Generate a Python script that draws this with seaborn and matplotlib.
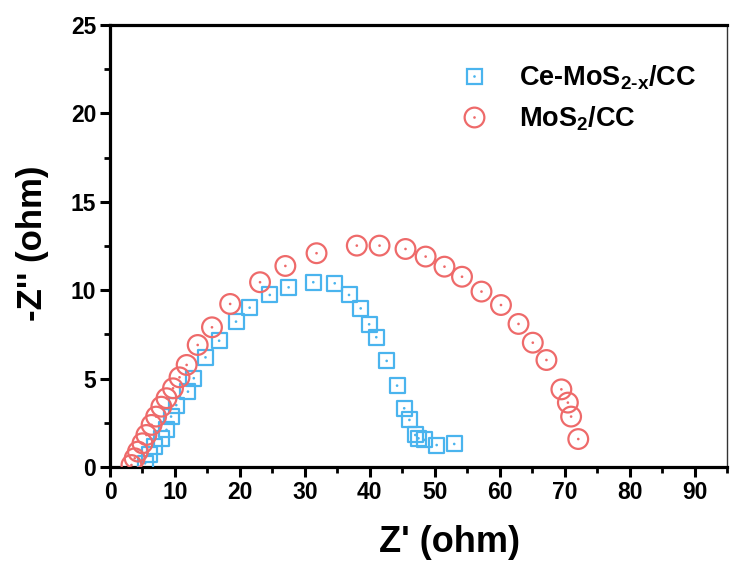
import matplotlib
matplotlib.use("Agg")
import matplotlib.pyplot as plt
import seaborn as sns
import pandas as pd
from matplotlib.lines import Line2D

# Nyquist data (Z' real part, -Z'' imaginary part), in ohm
ce_zre = [5.4, 6.1, 6.9, 7.9, 8.7, 9.4, 10.2, 12.0, 12.9, 14.7, 16.8, 19.4,
          21.5, 24.6, 27.5, 31.3, 34.6, 36.8, 38.6, 39.9, 41.0, 42.6, 44.2,
          45.3, 46.1, 47.0, 47.5, 48.4, 50.3, 53.0]
ce_zim = [0.21, 0.68, 1.15, 1.62, 2.10, 2.85, 3.50, 4.26, 5.02, 6.20, 7.14,
          8.22, 9.01, 9.73, 10.16, 10.45, 10.39, 9.73, 8.97, 8.07, 7.34, 6.00,
          4.60, 3.32, 2.66, 1.81, 1.62, 1.53, 1.24, 1.30]

mo_zre = [3.3, 3.8, 4.3, 5.0, 5.6, 6.4, 7.1, 7.9, 8.7, 9.7, 10.7, 11.8, 13.5,
          15.7, 18.5, 23.1, 27.0, 31.8, 38.0, 41.5, 45.5, 48.6, 51.5, 54.2,
          57.2, 60.2, 62.9, 65.1, 67.2, 69.5, 70.5, 71.0, 72.1]
mo_zim = [0.11, 0.49, 0.87, 1.34, 1.81, 2.38, 2.85, 3.41, 3.89, 4.45, 5.07,
          5.77, 6.90, 7.90, 9.22, 10.45, 11.37, 12.09, 12.52, 12.52, 12.33,
          11.90, 11.33, 10.76, 9.92, 9.16, 8.09, 7.03, 6.05, 4.39, 3.64, 2.85,
          1.58]

labels = ["Ce-MoS$_{2\\text{-}x}$/CC", "MoS$_{2}$/CC"]
x_ticks = [0, 10, 20, 30, 40, 50, 60, 70, 80, 90]
y_ticks = [0, 5, 10, 15, 20, 25]

blue = "#4AB4EE"
red = "#EE6A6A"

sns.set_theme(style="white")
plt.rcParams["font.family"] = ["Liberation Sans", "DejaVu Sans"]
plt.rcParams["font.weight"] = "bold"
plt.rcParams["text.color"] = "black"
plt.rcParams["axes.labelcolor"] = "black"
plt.rcParams["xtick.color"] = "black"
plt.rcParams["ytick.color"] = "black"
plt.rcParams["mathtext.fontset"] = "custom"
plt.rcParams["mathtext.rm"] = "Liberation Sans:bold"
plt.rcParams["mathtext.it"] = "Liberation Sans:bold"
plt.rcParams["mathtext.bf"] = "Liberation Sans:bold"

df_ce = pd.DataFrame({"zre": ce_zre, "zim": ce_zim})
df_mo = pd.DataFrame({"zre": mo_zre, "zim": mo_zim})

fig = plt.figure(figsize=(7.31, 5.65), dpi=100)
ax = fig.add_axes([0.1505, 0.1735, 0.844, 0.7823])

sq_ms, ci_ms, dot_ms = 10.8, 14.2, 1.9
lw = 1.6

# open markers with a small centre dot
sns.scatterplot(data=df_ce, x="zre", y="zim", ax=ax, marker="s", s=sq_ms ** 2,
                facecolor="none", edgecolor=blue, linewidth=lw, zorder=3)
sns.scatterplot(data=df_ce, x="zre", y="zim", ax=ax, marker="o", s=dot_ms ** 2,
                color=blue, edgecolor="none", zorder=3)
sns.scatterplot(data=df_mo, x="zre", y="zim", ax=ax, marker="o", s=ci_ms ** 2,
                facecolor="none", edgecolor=red, linewidth=lw, zorder=4)
sns.scatterplot(data=df_mo, x="zre", y="zim", ax=ax, marker="o", s=dot_ms ** 2,
                color=red, edgecolor="none", zorder=4)

ax.set_xlim(0, 95)
ax.set_ylim(0, 25)
ax.set_xticks(x_ticks)
ax.set_yticks(y_ticks)
ax.set_xticks([v + 5 for v in x_ticks], minor=True)
ax.set_yticks([v + 2.5 for v in y_ticks[:-1]], minor=True)
ax.set_xticklabels([str(v) for v in x_ticks])
ax.set_yticklabels([str(v) for v in y_ticks])

ax.tick_params(axis="both", which="major", direction="out", length=7, width=2.2,
               labelsize=16.5, colors="black", pad=3, bottom=True, left=True)
ax.tick_params(axis="both", which="minor", direction="out", length=4, width=2.0,
               colors="black", bottom=True, left=True)
for lab in ax.get_xticklabels() + ax.get_yticklabels():
    lab.set_fontweight("bold")

for side in ["left", "bottom", "top"]:
    ax.spines[side].set_linewidth(2.3)
    ax.spines[side].set_color("black")
ax.spines["right"].set_linewidth(1.0)
ax.spines["right"].set_color("#333333")

ax.set_xlabel("Z' (ohm)", fontsize=26, fontweight="bold", color="black")
ax.set_ylabel("-Z'' (ohm)", fontsize=25, fontweight="bold", color="black")
ax.xaxis.label.set_va("center")
ax.yaxis.label.set_va("center")
ax.xaxis.set_label_coords(0.551, -0.171)
ax.yaxis.set_label_coords(-0.125, 0.507)

handles = [
    (Line2D([], [], ls="none", marker="s", ms=sq_ms, mfc="none", mec=blue, mew=lw),
     Line2D([], [], ls="none", marker="o", ms=dot_ms, mfc=blue, mec="none")),
    (Line2D([], [], ls="none", marker="o", ms=ci_ms, mfc="none", mec=red, mew=lw),
     Line2D([], [], ls="none", marker="o", ms=dot_ms, mfc=red, mec="none")),
]
leg = ax.legend(handles, labels, loc="upper right", bbox_to_anchor=(0.99, 0.968),
                frameon=False, prop={"size": 19.5, "weight": "bold"},
                handletextpad=0.9, labelspacing=0.45, handlelength=1.5)

fig.savefig("out.png", dpi=100)
